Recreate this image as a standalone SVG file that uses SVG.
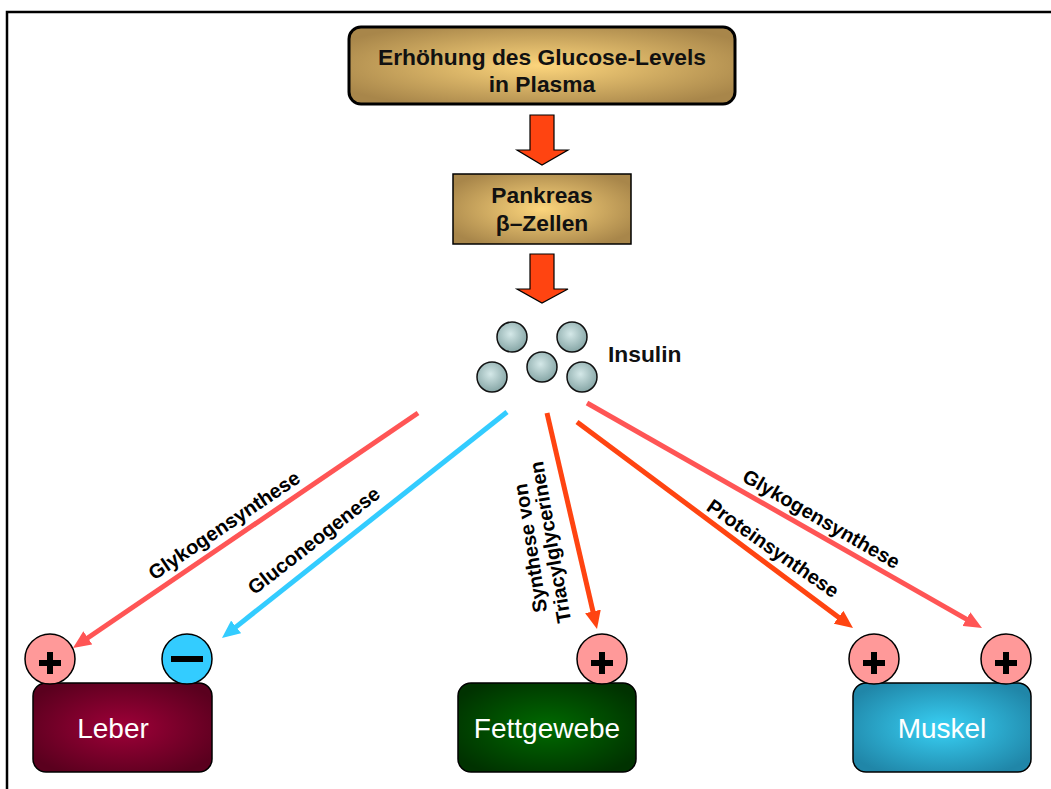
<svg xmlns="http://www.w3.org/2000/svg" width="1051" height="789" viewBox="0 0 1051 789">
<style>
.lbl{font-family:"Liberation Sans",Arial,sans-serif;font-weight:bold;font-size:20px;fill:#000;text-anchor:middle}
.hdr{font-family:"Liberation Sans",Arial,sans-serif;font-weight:bold;font-size:22.8px;fill:#111;text-anchor:middle}
.org{font-family:"Liberation Sans",Arial,sans-serif;font-size:28px;fill:#fff;text-anchor:middle}
.conn{fill:none;stroke-width:5}
.pos{fill:#FF9999;stroke:#000;stroke-width:1.5}
.neg{fill:#33CCFF;stroke:#000;stroke-width:1.5}
.sign{stroke:#000;stroke-width:6;stroke-linecap:butt}
.ball{fill:url(#gBall);stroke:#111;stroke-width:1.5}
.blk{fill:#FF4411;stroke:#000;stroke-width:1.2}
</style>
<defs>
<radialGradient id="gGold" cx="50%" cy="50%" r="60%">
<stop offset="0" stop-color="#FCD57C"/><stop offset="1" stop-color="#A8864A"/>
</radialGradient>
<radialGradient id="gBall" cx="45%" cy="40%" r="60%">
<stop offset="0" stop-color="#D4E8E8"/><stop offset="1" stop-color="#86A6A6"/>
</radialGradient>
<radialGradient id="gLeber" cx="50%" cy="50%" r="60%">
<stop offset="0" stop-color="#9E0038"/><stop offset="1" stop-color="#5A001E"/>
</radialGradient>
<radialGradient id="gFett" cx="50%" cy="50%" r="60%">
<stop offset="0" stop-color="#006A00"/><stop offset="1" stop-color="#003200"/>
</radialGradient>
<radialGradient id="gMuskel" cx="50%" cy="50%" r="60%">
<stop offset="0" stop-color="#38D0F4"/><stop offset="1" stop-color="#2086A8"/>
</radialGradient>
<marker id="mRed" markerUnits="userSpaceOnUse" viewBox="0 0 18 16" refX="2" refY="8" markerWidth="18" markerHeight="16" orient="auto"><path d="M0,0 L18,8 L0,16 Z" fill="#FF5555"/></marker>
<marker id="mCyan" markerUnits="userSpaceOnUse" viewBox="0 0 18 16" refX="2" refY="8" markerWidth="18" markerHeight="16" orient="auto"><path d="M0,0 L18,8 L0,16 Z" fill="#33CCFF"/></marker>
<marker id="mOrange" markerUnits="userSpaceOnUse" viewBox="0 0 18 16" refX="2" refY="8" markerWidth="18" markerHeight="16" orient="auto"><path d="M0,0 L18,8 L0,16 Z" fill="#FF4411"/></marker>
</defs>
<rect x="0" y="0" width="1051" height="789" fill="#fff"/>
<rect x="7" y="12" width="1070" height="800" fill="none" stroke="#000" stroke-width="2.5"/>

<g id="glucose">
<rect x="349" y="27" width="386" height="77" rx="12" fill="url(#gGold)" stroke="#000" stroke-width="3"/>
<text class="hdr" x="542" y="65">Erhöhung des Glucose-Levels</text>
<text class="hdr" x="542" y="92">in Plasma</text>
</g>
<g id="pankreas">
<rect x="453" y="174" width="178" height="70" fill="url(#gGold)" stroke="#000" stroke-width="1.5"/>
<text class="hdr" x="542" y="203">Pankreas</text>
<text class="hdr" x="542" y="231">β–Zellen</text>
</g>
<g id="insulin">
<circle class="ball" cx="512" cy="337" r="15"/>
<circle class="ball" cx="572" cy="337" r="15"/>
<circle class="ball" cx="542" cy="367" r="15"/>
<circle class="ball" cx="492" cy="377" r="15"/>
<circle class="ball" cx="582" cy="377" r="15"/>
<text class="hdr" x="608" y="362" style="text-anchor:start">Insulin</text>
</g>
<g id="leber">
<rect x="33" y="683" width="179" height="89" rx="13" fill="url(#gLeber)" stroke="#000" stroke-width="1.5"/>
<text class="org" x="113" y="738">Leber</text>
<circle class="pos" cx="50" cy="659" r="25"/>
<path class="sign" d="M39,663 H61 M50,652 V674"/>
<circle class="neg" cx="187" cy="659" r="25"/>
<path class="sign" d="M171,659 H203" stroke-linecap="round"/>
</g>
<g id="fettgewebe">
<rect x="458" y="683" width="178" height="89" rx="13" fill="url(#gFett)" stroke="#000" stroke-width="1.5"/>
<text class="org" x="547" y="738">Fettgewebe</text>
<circle class="pos" cx="602" cy="659" r="25"/>
<path class="sign" d="M591,663 H613 M602,652 V674"/>
</g>
<g id="muskel">
<rect x="853" y="683" width="178" height="89" rx="13" fill="url(#gMuskel)" stroke="#000" stroke-width="1.5"/>
<text class="org" x="942" y="738">Muskel</text>
<circle class="pos" cx="874" cy="659" r="25"/>
<path class="sign" d="M863,663 H885 M874,652 V674"/>
<circle class="pos" cx="1006" cy="659" r="25"/>
<path class="sign" d="M995,663 H1017 M1006,652 V674"/>
</g>

<g id="connectors">
<polygon class="blk" points="530,115 554,115 554,150 568,150 542,165 517,150 530,150"/>
<polygon class="blk" points="530,254 554,254 554,289 568,289 542,303 517,289 530,289"/>
<line class="conn" x1="418" y1="413" x2="86.2" y2="639" stroke="#FF5555" marker-end="url(#mRed)"/>
<line class="conn" x1="507" y1="412" x2="234.5" y2="628.1" stroke="#33CCFF" marker-end="url(#mCyan)"/>
<line class="conn" x1="547" y1="413" x2="593.4" y2="613.4" stroke="#FF4411" marker-end="url(#mOrange)"/>
<line class="conn" x1="577" y1="422" x2="840.2" y2="618.4" stroke="#FF4411" marker-end="url(#mOrange)"/>
<line class="conn" x1="587" y1="403" x2="968.1" y2="620.1" stroke="#FF5555" marker-end="url(#mRed)"/>
<text class="lbl" transform="translate(228,531) rotate(-34)">Glykogensynthese</text>
<text class="lbl" transform="translate(318,546) rotate(-38)">Gluconeogenese</text>
<text class="lbl" transform="translate(537,547) rotate(-99)">Synthese von</text>
<text class="lbl" transform="translate(557,541) rotate(-100)">Triacylglycerinen</text>
<text class="lbl" transform="translate(769,554) rotate(35)">Proteinsynthese</text>
<text class="lbl" transform="translate(818,525) rotate(30)">Glykogensynthese</text>
</g>
</svg>
